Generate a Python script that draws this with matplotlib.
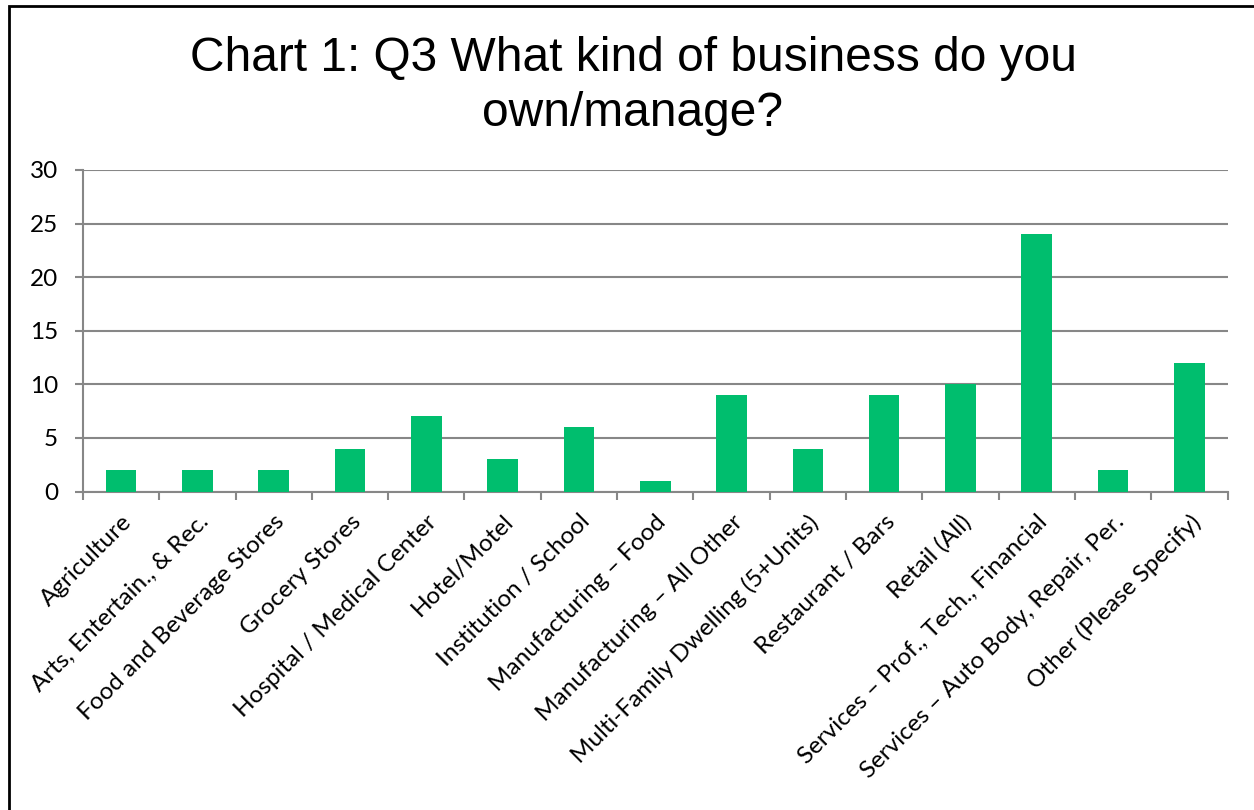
import matplotlib
matplotlib.use("Agg")
import matplotlib.pyplot as plt
from matplotlib.patches import Rectangle
import numpy as np

categories = [
    "Agriculture",
    "Arts, Entertain., & Rec.",
    "Food and Beverage Stores",
    "Grocery Stores",
    "Hospital / Medical Center",
    "Hotel/Motel",
    "Institution / School",
    "Manufacturing \u2013 Food",
    "Manufacturing \u2013 All Other",
    "Multi-Family Dwelling (5+Units)",
    "Restaurant / Bars",
    "Retail (All)",
    "Services \u2013 Prof., Tech., Financial",
    "Services \u2013 Auto Body, Repair, Per.",
    "Other (Please Specify)",
]
values = [2, 2, 2, 4, 7, 3, 6, 1, 9, 4, 9, 10, 24, 2, 12]
yticks = [0, 5, 10, 15, 20, 25, 30]
title = "Chart 1: Q3 What kind of business do you\nown/manage?"

W, H = 1254, 810
fig = plt.figure(figsize=(W / 100, H / 100), dpi=100)
fig.patch.set_facecolor("white")

ax = fig.add_axes([83 / W, 1 - 491.5 / H, (1227.5 - 83) / W, (491.5 - 170) / H])

grid_col = "#878787"
bar_col = "#00BE6E"
label_font = ["Lato", "DejaVu Sans"]

x = np.arange(len(categories))
ax.bar(x, values, width=0.4, color=bar_col, zorder=3)

ax.set_xlim(-0.5, len(categories) - 0.5)
ax.set_ylim(0, 30)
ax.set_yticks(yticks)
ax.set_yticklabels([str(v) for v in yticks], fontsize=17.5, family=label_font)
ax.yaxis.grid(True, color=grid_col, linewidth=1.5, zorder=0)

ax.set_xticks(x)
ax.set_xticklabels(categories, rotation=45, ha="right", rotation_mode="anchor",
                   fontsize=17.5, family=label_font)
ax.set_xticks(np.arange(-0.5, len(categories), 1.0), minor=True)
ax.tick_params(axis="x", which="major", length=0, pad=14)
ax.tick_params(axis="x", which="minor", length=6, width=1.5, color=grid_col, direction="out")
ax.tick_params(axis="y", length=6, width=1.5, color=grid_col, direction="out", pad=12)

for s in ["top", "right"]:
    ax.spines[s].set_visible(False)
for s in ["left", "bottom"]:
    ax.spines[s].set_color(grid_col)
    ax.spines[s].set_linewidth(1.5)

fig.text(633 / W, 1 - 36 / H, title, ha="center", va="top", fontsize=34.5,
         family=["Liberation Sans", "DejaVu Sans"], linespacing=1.3)

# outer frame (right/bottom edges fall outside the image)
fig.add_artist(Rectangle((8.5 / W, -0.1), 1.2, 1.1 - 5.5 / H,
                         transform=fig.transFigure, fill=False,
                         edgecolor="black", linewidth=2.0))

fig.savefig("out.png", dpi=100, facecolor="white")
